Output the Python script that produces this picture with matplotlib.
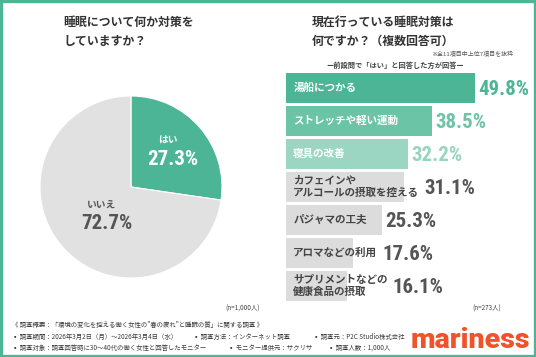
import matplotlib
matplotlib.use("Agg")
import matplotlib.pyplot as plt
from matplotlib import font_manager
from matplotlib.patches import Rectangle

# ---------------- data ----------------
pie_labels = ["はい", "いいえ"]
pie_values = [27.3, 72.7]

bar_labels = [
    "湯船につかる",
    "ストレッチや軽い運動",
    "寝具の改善",
    "カフェインや\nアルコールの摂取を控える",
    "パジャマの工夫",
    "アロマなどの利用",
    "サプリメントなどの\n健康食品の摂取",
]
bar_values = [49.8, 38.5, 32.2, 31.1, 25.3, 17.6, 16.1]

left_title = "睡眠について何か対策を\nしていますか？"
right_title = "現在行っている睡眠対策は\n何ですか？（複数回答可）"
right_note = "※全11項目中上位7項目を抜粋"
right_sub = "ー前設問で「はい」と回答した方が回答ー"
n_left = "(n=1,000人)"
n_right = "(n=273人)"
footer_lines = [
    [("《 調査概要：「環境の変化を控える働く女性の\"春の疲れ\"と睡眠の質」に関する調査 》", 12)],
    [("▪ 調査期間：2026年3月2日（月）～2026年3月4日（水）", 12),
     ("▪ 調査方法：インターネット調査", 193),
     ("▪ 調査元：P2C Studio株式会社", 313)],
    [("▪ 調査対象：調査回答時に30～40代の働く女性と回答したモニター", 12),
     ("▪ モニター提供元：サクリサ", 228),
     ("▪ 調査人数：1,000人", 328)],
]
logo = "mariness"

# ---------------- style ----------------
TEAL = "#4cb596"
bar_colors = ["#4cb596", "#6cc4a6", "#9ad6c2", "#dcdcdc", "#dcdcdc", "#dcdcdc", "#dcdcdc"]
val_colors = ["#4cb596", "#6cc4a6", "#98d4c0", "#555555", "#555555", "#555555", "#555555"]
lab_colors = ["white", "white", "white", "#444444", "#444444", "#444444", "#444444"]

JP = "Noto Sans CJK JP"


def pick_num_font():
    for f in ["Liberation Sans Narrow", "Roboto Condensed", "Roboto"]:
        try:
            font_manager.findfont(font_manager.FontProperties(family=f), fallback_to_default=False)
            return f
        except Exception:
            continue
    return "DejaVu Sans"


NUM = pick_num_font()
plt.rcParams["font.family"] = [JP, "DejaVu Sans"]

W, H = 536, 357
fig = plt.figure(figsize=(W / 100, H / 100), dpi=100)
fig.patch.set_facecolor("white")


def fx(x):
    return x / W


def fy(y):
    return 1 - y / H


# border
fig.add_artist(Rectangle((fx(1.3), fy(355.7)), fx(533.4), 354.4 / H,
                         transform=fig.transFigure, fill=False, edgecolor=TEAL, linewidth=2.4))

# ---------------- pie ----------------
cx, cy, r = 131, 187, 91
axp = fig.add_axes([fx(cx - r), fy(cy + r), 2 * r / W, 2 * r / H])
axp.pie(pie_values, colors=[TEAL, "#e1e1e1"], startangle=90, counterclock=False,
        wedgeprops=dict(edgecolor="white", linewidth=0.8))
axp.set_xlim(-1, 1)
axp.set_ylim(-1, 1)
axp.set_aspect("auto")
axp.axis("off")
axp.text(0.41, 0.52, pie_labels[0], color="white", fontsize=7, fontweight="bold",
         ha="center", va="center", family=[JP])
axp.text(0.46, 0.30, f"{pie_values[0]}%", color="white", fontsize=15, fontweight="bold",
         ha="center", va="center", family=[NUM, JP])
axp.text(-0.32, -0.20, pie_labels[1], color="#555555", fontsize=7, fontweight="bold",
         ha="center", va="center", family=[JP])
axp.text(-0.27, -0.40, f"{pie_values[1]}%", color="#555555", fontsize=15, fontweight="bold",
         ha="center", va="center", family=[NUM, JP])

# ---------------- bars ----------------
x0 = 286
pxper = 3.8
bl_w = 240
top, pitch = 71.5, 33
axb = fig.add_axes([fx(x0), fy(top + pitch * len(bar_values)), bl_w / W, pitch * len(bar_values) / H])
idx = list(range(len(bar_values)))
axb.barh(idx, bar_values, height=30 / 33, color=bar_colors, edgecolor="none")
axb.set_xlim(0, bl_w / pxper)
axb.set_ylim(len(bar_values) - 0.5, -0.5)
axb.axis("off")

texts = []
for i, (lab, c) in enumerate(zip(bar_labels, lab_colors)):
    t = axb.text(1.9, i, lab, color=c, fontsize=7.6, fontweight="bold", ha="left", va="center",
                 linespacing=1.3, family=[JP])
    texts.append(t)

fig.canvas.draw()
rend = fig.canvas.get_renderer()
inv = axb.transData.inverted()
for i, (v, t) in enumerate(zip(bar_values, texts)):
    bb = t.get_window_extent(rend)
    text_end = inv.transform((bb.x1, 0))[0]
    if text_end + 1.0 > v:
        xv = text_end + 1.3
    else:
        xv = v + 0.8
    axb.text(xv, i + 0.04, f"{v}%", color=val_colors[i], fontsize=15, fontweight="bold",
             ha="left", va="center", family=[NUM, JP])

# ---------------- titles & notes ----------------
fig.text(fx(63), fy(32), left_title, fontsize=8.6, fontweight="bold", color="#333333",
         ha="left", va="center", linespacing=1.65)
fig.text(fx(312), fy(32), right_title, fontsize=8.6, fontweight="bold", color="#333333",
         ha="left", va="center", linespacing=1.65)
fig.text(fx(513), fy(53), right_note, fontsize=4.3, color="#555555", ha="right", va="center")
fig.text(fx(395), fy(65), right_sub, fontsize=5.2, fontweight="bold", color="#444444",
         ha="center", va="center")
fig.text(fx(243), fy(309), n_left, fontsize=4.6, color="#444444", ha="center", va="center")
fig.text(fx(487), fy(309), n_right, fontsize=4.6, color="#444444", ha="center", va="center")

for line, y in zip(footer_lines, [325, 337, 348]):
    for txt, x in line:
        fig.text(fx(x), fy(y), txt, fontsize=4.6, color="#3a3a3a", ha="left", va="center",
                 family=[JP, "DejaVu Sans"])

fig.text(fx(470), fy(340), logo, fontsize=20.5, fontweight="black", color="#f0532a",
         ha="center", va="center", family=["Roboto", "DejaVu Sans"])

fig.savefig("out.png", dpi=100, facecolor="white")
